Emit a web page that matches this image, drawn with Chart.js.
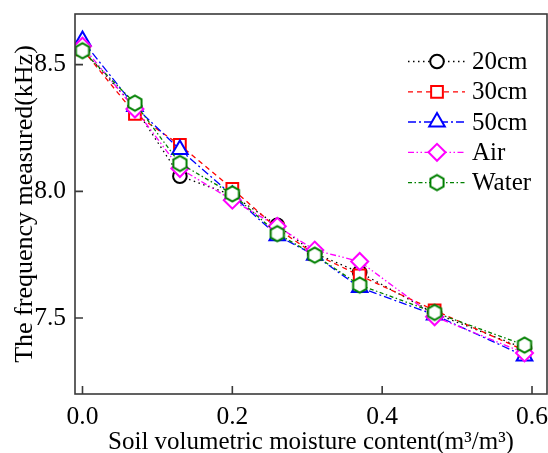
<!DOCTYPE html>
<html>
<head>
<meta charset="utf-8">
<script src="https://cdn.jsdelivr.net/npm/chart.js@4.4.0/dist/chart.umd.min.js"></script>
<style>
  html, body { margin: 0; padding: 0; background: #fff; }
  #wrap { width: 548px; height: 453px; }
</style>
</head>
<body>
<div id="wrap"><canvas id="chart" width="548" height="453"></canvas></div>
<script>
// data
const moisture = [0, 0.07, 0.13, 0.2, 0.26, 0.31, 0.37, 0.47, 0.59];
const freq20cm = [8.56, 8.33, 8.06, 7.985, 7.866, 7.755, 7.68, 7.518, 7.38];
const freq30cm = [8.56, 8.306, 8.183, 8.01, 7.853, 7.752, 7.668, 7.53, 7.372];
const freq50cm = [8.595, 8.335, 8.165, 7.984, 7.825, 7.748, 7.62, 7.512, 7.35];
const freqAir = [8.573, 8.325, 8.09, 7.965, 7.862, 7.768, 7.723, 7.505, 7.362];
const freqWater = [8.555, 8.348, 8.11, 7.99, 7.833, 7.748, 7.63, 7.522, 7.393];
const seriesNames = ['20cm', '30cm', '50cm', 'Air', 'Water'];
const xTicks = [0.0, 0.2, 0.4, 0.6];
const yTicks = [7.5, 8.0, 8.5];

const FONT = "'Liberation Serif', 'Times New Roman', serif";
const axisColor = '#3a3a3a';
// plot box in canvas pixels
const box = { left: 75, right: 547, top: 14, bottom: 394 };

// hexagon marker (no built-in one in Chart.js)
function makeHexagon(color) {
    const c = document.createElement('canvas');
    c.width = 20; c.height = 20;
    const g = c.getContext('2d');
    const r = 7.6;
    g.beginPath();
    for (let i = 0; i < 6; i++) {
        const a = Math.PI / 2 + i * Math.PI / 3;
        const px = 10 + r * Math.cos(a), py = 10 - r * Math.sin(a);
        if (i === 0) g.moveTo(px, py); else g.lineTo(px, py);
    }
    g.closePath();
    g.fillStyle = '#fff';
    g.fill();
    g.lineWidth = 2;
    g.strokeStyle = color;
    g.stroke();
    return c;
}

const toPoints = arr => arr.map((v, i) => ({ x: moisture[i], y: v }));

const styles = [
    { color: '#000000', dash: [1.5, 3.5], pointStyle: 'circle', radius: 6.8, order: 4 },
    { color: '#ff0000', dash: [5, 4], pointStyle: 'rect', radius: 8.3, order: 3 },
    { color: '#0000ff', dash: [8, 3, 2, 3], pointStyle: 'triangle', radius: 9, order: 2 },
    { color: '#ff00ff', dash: [6, 2.5, 1.5, 2.5, 1.5, 2.5], pointStyle: 'rectRot', radius: 8.5, order: 1 },
    { color: '#008000', dash: [4, 2.5, 1.5, 2.5], pointStyle: makeHexagon('#008000'), radius: 8, order: 0 }
];
const seriesData = [freq20cm, freq30cm, freq50cm, freqAir, freqWater];

const datasets = seriesNames.map((name, i) => ({
    label: name,
    data: toPoints(seriesData[i]),
    borderColor: styles[i].color,
    backgroundColor: '#ffffff',
    borderWidth: 1.3,
    borderDash: styles[i].dash,
    pointStyle: styles[i].pointStyle,
    pointRadius: styles[i].radius,
    pointBorderWidth: 2,
    pointBorderColor: styles[i].color,
    pointBackgroundColor: '#ffffff',
    tension: 0,
    fill: false,
    order: styles[i].order
}));

// pin the plot box after Chart.js has done its layout
const boxPlugin = {
    id: 'fixedBox',
    afterLayout(chart) {
        const a = chart.chartArea;
        const xs = chart.scales.x, ys = chart.scales.y;
        Object.assign(a, box, { width: box.right - box.left, height: box.bottom - box.top });
        xs.left = box.left; xs.right = box.right; xs.width = box.right - box.left;
        xs.top = box.bottom; xs.bottom = chart.height; xs.height = chart.height - box.bottom;
        ys.left = 0; ys.right = box.left; ys.width = box.left;
        ys.top = box.top; ys.bottom = box.bottom; ys.height = box.bottom - box.top;
        xs.configure();
        ys.configure();
    }
};

// box, inward ticks and the legend
const framePlugin = {
    id: 'frame',
    afterDraw(chart) {
        const { ctx, chartArea: a, scales: { x, y } } = chart;
        ctx.save();
        ctx.strokeStyle = axisColor;
        ctx.lineWidth = 1.6;
        ctx.setLineDash([]);
        ctx.strokeRect(a.left, a.top, a.right - a.left, a.bottom - a.top);
        ctx.beginPath();
        xTicks.forEach(v => {
            const px = x.getPixelForValue(v);
            ctx.moveTo(px, a.bottom);
            ctx.lineTo(px, a.bottom - 8);
        });
        yTicks.forEach(v => {
            const py = y.getPixelForValue(v);
            ctx.moveTo(a.left, py);
            ctx.lineTo(a.left + 8, py);
        });
        ctx.stroke();

        // legend
        const lx0 = 408, lx1 = 465, mx = 437, tx = 472;
        const rowY = [61.5, 91.8, 122, 152.3, 182.6];
        ctx.font = '25px ' + FONT;
        ctx.textBaseline = 'middle';
        ctx.textAlign = 'left';
        seriesNames.forEach((name, i) => {
            const s = styles[i];
            const yy = rowY[i];
            ctx.strokeStyle = s.color;
            ctx.lineWidth = 1.3;
            ctx.setLineDash(s.dash);
            ctx.beginPath();
            ctx.moveTo(lx0, yy);
            ctx.lineTo(lx1, yy);
            ctx.stroke();
            ctx.setLineDash([]);
            ctx.lineWidth = 2;
            ctx.fillStyle = '#ffffff';
            Chart.helpers.drawPoint(ctx, {
                pointStyle: s.pointStyle, radius: s.radius, rotation: 0, borderWidth: 2
            }, mx, yy);
            ctx.fillStyle = '#000';
            ctx.fillText(name, tx, yy + 1);
        });
        ctx.restore();
    }
};

new Chart(document.getElementById('chart'), {
    type: 'line',
    data: { datasets },
    options: {
        responsive: false,
        animation: false,
        devicePixelRatio: 1,
        layout: { padding: { top: 14, right: 1, left: 0, bottom: 0 } },
        plugins: {
            legend: { display: false },
            tooltip: { enabled: false }
        },
        scales: {
            x: {
                type: 'linear',
                min: -0.01,
                max: 0.62,
                afterBuildTicks: scale => { scale.ticks = xTicks.map(v => ({ value: v })); },
                grid: { display: false, drawTicks: false },
                border: { display: false },
                ticks: {
                    padding: 8,
                    color: '#000',
                    font: { family: FONT, size: 25.5 },
                    callback: v => v.toFixed(1),
                    maxRotation: 0
                },
                title: {
                    display: true,
                    text: 'Soil volumetric moisture content(m³/m³)',
                    color: '#000',
                    font: { family: FONT, size: 25 },
                    padding: { top: 0, bottom: -4 }
                }
            },
            y: {
                type: 'linear',
                min: 7.2,
                max: 8.7,
                afterBuildTicks: scale => { scale.ticks = yTicks.map(v => ({ value: v })); },
                grid: { display: false, drawTicks: false },
                border: { display: false },
                ticks: {
                    padding: 9,
                    color: '#000',
                    font: { family: FONT, size: 25.5 },
                    callback: v => v.toFixed(1)
                },
                title: {
                    display: true,
                    text: 'The frequency measured(kHz)',
                    color: '#000',
                    font: { family: FONT, size: 26 },
                    padding: { top: 10, bottom: 0 }
                }
            }
        }
    },
    plugins: [boxPlugin, framePlugin]
});
</script>
</body>
</html>
